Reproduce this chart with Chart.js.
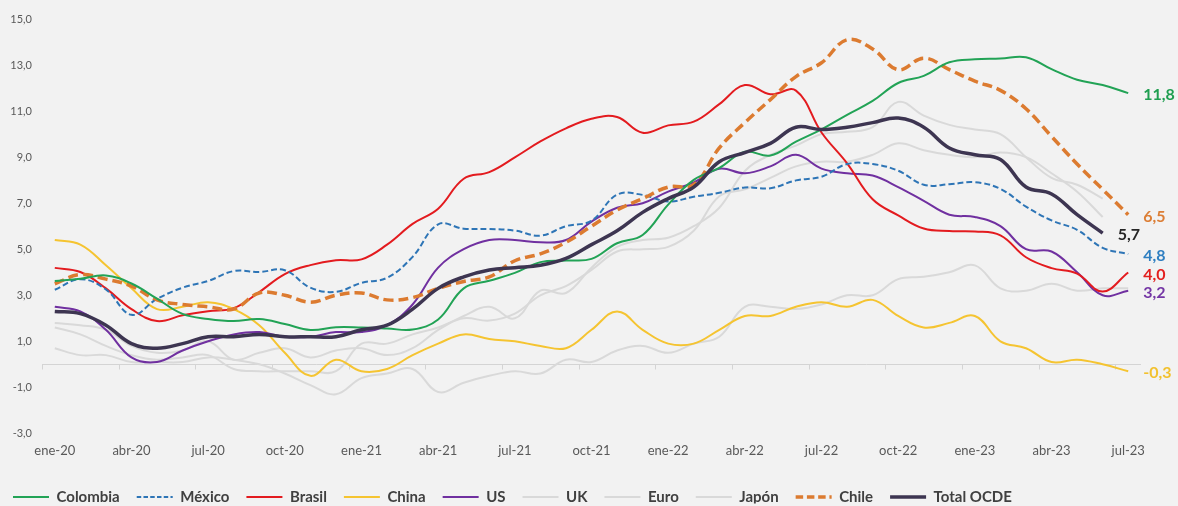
<!DOCTYPE html>
<html lang="es">
<head>
<meta charset="utf-8">
<title>Inflación anual</title>
<script src="https://cdn.jsdelivr.net/npm/chart.js@4.4.1/dist/chart.umd.min.js"></script>
<style>
  html, body { margin: 0; padding: 0; background: #f2f2f2; overflow: hidden; }
  #wrap { width: 1178px; height: 506px; position: relative; }
</style>
</head>
<body>
<div id="wrap"><canvas id="chart"></canvas></div>
<script>
// Meses (eje X)
const months = [
  'ene-20','feb-20','mar-20','abr-20','may-20','jun-20','jul-20','ago-20','sep-20','oct-20','nov-20','dic-20',
  'ene-21','feb-21','mar-21','abr-21','may-21','jun-21','jul-21','ago-21','sep-21','oct-21','nov-21','dic-21',
  'ene-22','feb-22','mar-22','abr-22','may-22','jun-22','jul-22','ago-22','sep-22','oct-22','nov-22','dic-22',
  'ene-23','feb-23','mar-23','abr-23','may-23','jun-23','jul-23'
];

// Inflación anual (%)
const colombia = [3.62,3.72,3.86,3.51,2.85,2.19,1.97,1.88,1.97,1.75,1.49,1.61,
  1.60,1.56,1.51,1.95,3.30,3.63,3.97,4.44,4.51,4.58,5.26,5.62,
  6.94,8.01,8.53,9.23,9.07,9.67,10.21,10.84,11.44,12.22,12.53,13.12,
  13.25,13.28,13.34,12.82,12.36,12.13,11.78];
const mexico = [3.24,3.70,3.25,2.15,2.84,3.33,3.62,4.05,4.01,4.09,3.33,3.15,
  3.54,3.76,4.67,6.08,5.89,5.88,5.81,5.59,6.00,6.24,7.37,7.36,
  7.07,7.28,7.45,7.68,7.65,7.99,8.15,8.70,8.70,8.41,7.80,7.82,
  7.91,7.62,6.85,6.25,5.84,5.06,4.79];
const brasil = [4.19,4.01,3.30,2.40,1.88,2.13,2.31,2.44,3.14,3.92,4.31,4.52,
  4.56,5.20,6.10,6.76,8.06,8.35,8.99,9.68,10.25,10.67,10.74,10.06,
  10.38,10.54,11.30,12.13,11.73,11.89,10.07,8.73,7.17,6.47,5.90,5.79,
  5.77,5.60,4.65,4.18,3.94,3.16,3.99];
const china = [5.4,5.2,4.3,3.3,2.4,2.5,2.7,2.4,1.7,0.5,-0.5,0.2,
  -0.3,-0.2,0.4,0.9,1.3,1.1,1.0,0.8,0.7,1.5,2.3,1.5,
  0.9,0.9,1.5,2.1,2.1,2.5,2.7,2.5,2.8,2.1,1.6,1.8,
  2.1,1.0,0.7,0.1,0.2,0.0,-0.3];
const us = [2.5,2.3,1.5,0.3,0.1,0.6,1.0,1.3,1.4,1.2,1.2,1.4,
  1.4,1.7,2.6,4.2,5.0,5.4,5.4,5.3,5.4,6.2,6.8,7.0,
  7.5,7.9,8.5,8.3,8.6,9.1,8.5,8.3,8.2,7.7,7.1,6.5,
  6.4,6.0,5.0,4.9,4.0,3.0,3.2];
const uk = [1.8,1.7,1.5,0.8,0.5,0.6,1.0,0.2,0.5,0.7,0.3,0.6,
  0.7,0.4,0.7,1.5,2.1,2.5,2.0,3.2,3.1,4.2,5.1,5.4,
  5.5,6.0,6.8,8.4,9.1,9.5,10.0,10.1,10.3,11.4,10.8,10.4,
  10.2,10.0,9.0,8.1,7.8,7.2,null];
const euro = [1.6,1.3,0.8,0.4,0.2,0.3,0.4,-0.2,-0.3,-0.3,-0.3,-0.3,
  0.9,0.9,1.3,1.6,2.0,1.9,2.2,3.0,3.4,4.1,4.9,5.0,
  5.1,5.8,7.3,7.6,8.1,8.6,8.8,8.8,9.1,9.6,9.3,9.1,
  9.0,9.2,9.0,8.3,7.5,6.4,null];
const japon = [0.7,0.4,0.4,0.1,0.1,0.1,0.3,0.2,0.0,-0.4,-0.9,-1.3,
  -0.6,-0.4,-0.2,-1.2,-0.8,-0.5,-0.3,-0.4,0.2,0.1,0.6,0.8,
  0.5,0.9,1.2,2.5,2.5,2.4,2.6,3.0,3.0,3.7,3.8,4.0,
  4.3,3.3,3.2,3.5,3.2,3.3,3.3];
const chile = [3.5,3.9,3.7,3.4,2.8,2.6,2.5,2.4,3.1,3.0,2.7,3.0,
  3.1,2.8,2.9,3.3,3.6,3.8,4.5,4.8,5.3,6.0,6.7,7.2,
  7.7,7.8,9.4,10.5,11.5,12.5,13.1,14.1,13.7,12.8,13.3,12.8,
  12.3,11.9,11.1,9.9,8.7,7.6,6.5];
const ocde = [2.3,2.2,1.7,0.9,0.7,0.9,1.2,1.2,1.3,1.2,1.2,1.2,
  1.5,1.7,2.4,3.3,3.8,4.1,4.2,4.3,4.6,5.2,5.8,6.6,
  7.2,7.7,8.8,9.2,9.6,10.3,10.2,10.3,10.5,10.7,10.3,9.4,
  9.1,8.9,7.7,7.4,6.5,5.7,null];

// Eje Y
const yMin = -3, yMax = 15, yStep = 2;

const FONT = 'Lato, "Liberation Sans", Arial, sans-serif';
const fmt = v => v.toFixed(1).replace('.', ',');

// Línea del cero con marcas trimestrales
const zeroAxis = {
  id: 'zeroAxis',
  beforeDatasetsDraw(chart) {
    const { ctx, chartArea, scales: { x, y } } = chart;
    const y0 = Math.round(y.getPixelForValue(0)) + 0.5;
    const half = (x.getPixelForValue(1) - x.getPixelForValue(0)) / 2;
    ctx.save();
    ctx.strokeStyle = '#d4d4d4';
    ctx.lineWidth = 1;
    ctx.beginPath();
    ctx.moveTo(chartArea.left, y0);
    ctx.lineTo(chartArea.right, y0);
    for (let i = 0; i < months.length; i += 3) {
      const xx = Math.round(x.getPixelForValue(i) - half) + 0.5;
      ctx.moveTo(xx, y0);
      ctx.lineTo(xx, y0 + 5);
    }
    ctx.stroke();
    ctx.restore();
  }
};

// Etiqueta con el último dato de cada serie destacada
const endLabels = {
  id: 'endLabels',
  afterDatasetsDraw(chart) {
    const ctx = chart.ctx;
    ctx.save();
    ctx.font = 'bold 16px ' + FONT;
    ctx.textAlign = 'left';
    ctx.textBaseline = 'middle';
    chart.data.datasets.forEach((ds, i) => {
      if (!ds.endColor) return;
      const meta = chart.getDatasetMeta(i);
      let j = ds.data.length - 1;
      while (j >= 0 && ds.data[j] == null) j--;
      const pt = meta.data[j];
      ctx.fillStyle = ds.endColor;
      ctx.fillText(fmt(ds.data[j]), pt.x + 15, pt.y + 2);
    });
    ctx.restore();
  }
};

// Leyenda ubicada al pie
const legendShift = {
  id: 'legendShift',
  afterLayout(chart) {
    const lg = chart.legend;
    if (!lg) return;
    lg.top += 3.5; lg.bottom += 3.5;
    lg.left -= 4; lg.right -= 4;
  }
};

function line(label, data, color, width, order, extra) {
  return Object.assign({
    label, data,
    borderColor: color, backgroundColor: color,
    borderWidth: width, pointRadius: 0, pointHoverRadius: 0,
    tension: 0.4, fill: false, order,
    borderCapStyle: 'butt', borderJoinStyle: 'round'
  }, extra || {});
}

const datasets = [
  line('Colombia', colombia, '#22a356', 2, 2, { endColor: '#1f9e50' }),
  line('México', mexico, '#2e75b6', 2, 5, { borderDash: [6, 3], endColor: '#2f7fc1' }),
  line('Brasil', brasil, '#e31b1f', 2, 6, { endColor: '#e3201f' }),
  line('China', china, '#f5c431', 2, 8, { endColor: '#f2c12e' }),
  line('US', us, '#7030a0', 2, 7, { endColor: '#7436a5' }),
  line('UK', uk, '#d9d9d9', 2, 10),
  line('Euro', euro, '#d9d9d9', 2, 10),
  line('Japón', japon, '#d9d9d9', 2, 10),
  line('Chile', chile, '#dc7b30', 3.5, 3, { borderDash: [10, 5], endColor: '#dc7e35' }),
  line('Total OCDE', ocde, '#3d3551', 3.5, 1, { endColor: '#262626' })
];

// Muestras de la leyenda con el mismo trazo (continuo o discontinuo) de cada serie
function legendLabels(chart) {
  const items = Chart.defaults.plugins.legend.labels.generateLabels(chart);
  items.forEach(it => {
    const ds = chart.data.datasets[it.datasetIndex];
    it.lineDash = ds.borderDash ? ds.borderDash.map(v => v * 0.75) : [];
    it.lineWidth = ds.borderWidth;
    it.strokeStyle = ds.borderColor;
  });
  return items;
}

new Chart(document.getElementById('chart'), {
  type: 'line',
  data: { labels: months, datasets },
  plugins: [zeroAxis, endLabels, legendShift],
  options: {
    responsive: true,
    maintainAspectRatio: false,
    animation: false,
    devicePixelRatio: 1,
    layout: { padding: { top: 19, right: 37, bottom: 6, left: 0 } },
    plugins: {
      title: { display: false },
      tooltip: { enabled: false },
      legend: {
        position: 'bottom',
        align: 'start',
        maxHeight: 31,
        labels: {
          font: { family: FONT, size: 15, weight: 'bold' },
          color: '#404040',
          usePointStyle: true,
          pointStyle: 'line',
          pointStyleWidth: 36,
          padding: 17,
          generateLabels: legendLabels,
          sort: (a, b) => a.datasetIndex - b.datasetIndex
        }
      }
    },
    scales: {
      x: {
        type: 'category',
        offset: true,
        grid: { display: false, drawTicks: false },
        border: { display: false },
        ticks: {
          autoSkip: false,
          maxRotation: 0,
          padding: 10,
          color: '#595959',
          font: { family: FONT, size: 13 },
          callback: (v, i) => (i % 3 === 0 ? months[i] : '')
        }
      },
      y: {
        min: yMin, max: yMax,
        grid: { display: false, drawTicks: false },
        border: { display: false },
        afterFit: s => { s.width = 42; },
        ticks: {
          stepSize: yStep,
          padding: 10,
          color: '#595959',
          font: { family: FONT, size: 11 },
          callback: v => fmt(v)
        }
      }
    }
  }
});
</script>
</body>
</html>
